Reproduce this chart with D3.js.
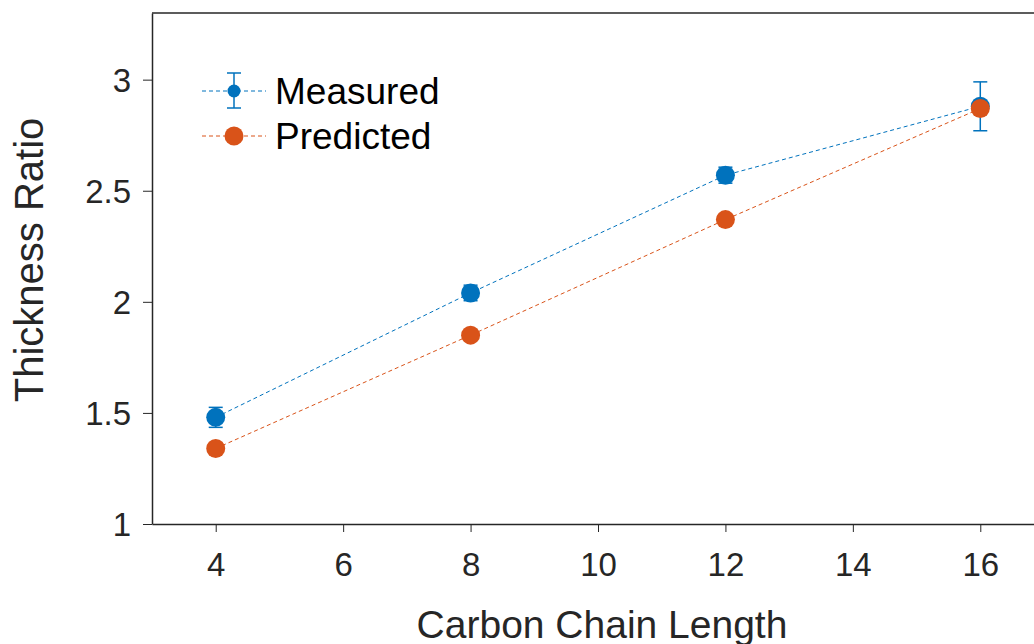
<!DOCTYPE html>
<html>
<head>
<meta charset="utf-8">
<script src="https://cdn.jsdelivr.net/npm/d3@7"></script>
<style>
  body { margin: 0; background: #fff; }
  svg { display: block; font-family: "Liberation Sans", Arial, sans-serif; }
</style>
</head>
<body>
<div id="chart"></div>
<script>
// chain lengths and the two series
const chainLength = [4, 8, 12, 16];
const measured = [1.48, 2.04, 2.57, 2.88];
const measuredErr = [0.045, 0.035, 0.036, 0.11];
const predicted = [1.34, 1.85, 2.37, 2.87];
const xTicks = [4, 6, 8, 10, 12, 14, 16];
const yTicks = [1, 1.5, 2, 2.5, 3];

const width = 1034, height = 644;
const margin = {left: 152, top: 13, right: -10, bottom: 120};
const blue = "#0072BD", orange = "#D95319", ink = "#262626";

const svg = d3.select("#chart").append("svg")
    .attr("width", width)
    .attr("height", height);

const x = d3.scaleLinear()
    .domain([3, 17])
    .range([margin.left, width - margin.right]);
const y = d3.scaleLinear()
    .domain([1, 3.3])
    .range([height - margin.bottom, margin.top]);

// top border
svg.append("line")
    .attr("x1", margin.left).attr("x2", width)
    .attr("y1", y(3.3)).attr("y2", y(3.3))
    .attr("stroke", ink).attr("stroke-width", 1.5);

// axes
const xAxis = svg.append("g")
    .attr("transform", `translate(0,${y(1)})`)
    .call(d3.axisBottom(x).tickValues(xTicks).tickSizeInner(8).tickSizeOuter(0)
        .tickPadding(21).tickFormat(d3.format("d")));
const yAxis = svg.append("g")
    .attr("transform", `translate(${margin.left},0)`)
    .call(d3.axisLeft(y).tickValues(yTicks).tickSizeInner(9).tickSizeOuter(0)
        .tickPadding(12).tickFormat(d => d));

[xAxis, yAxis].forEach(g => {
    g.select(".domain").attr("stroke", ink).attr("stroke-width", 1.5);
    g.selectAll(".tick line").attr("stroke", ink).attr("stroke-width", 1);
    g.selectAll(".tick text").attr("fill", ink).style("font-size", "33px");
});
yAxis.selectAll(".tick text").attr("dy", "0.35em");

// axis titles
svg.append("text")
    .attr("x", 602).attr("y", 638)
    .attr("text-anchor", "middle")
    .attr("fill", ink)
    .style("font-size", "39px")
    .text("Carbon Chain Length");
svg.append("text")
    .attr("transform", `translate(43,260) rotate(-90)`)
    .attr("text-anchor", "middle")
    .attr("fill", ink)
    .style("font-size", "40px")
    .text("Thickness Ratio");

const line = d3.line().x(d => x(d[0])).y(d => y(d[1]));

// predicted series
svg.append("path")
    .datum(chainLength.map((c, i) => [c, predicted[i]]))
    .attr("d", line)
    .attr("fill", "none")
    .attr("stroke", orange)
    .attr("stroke-width", 1)
    .attr("stroke-dasharray", "4,3");

// measured series
svg.append("path")
    .datum(chainLength.map((c, i) => [c, measured[i]]))
    .attr("d", line)
    .attr("fill", "none")
    .attr("stroke", blue)
    .attr("stroke-width", 1)
    .attr("stroke-dasharray", "4,3");

// error bars
const err = svg.append("g").attr("stroke", blue).attr("stroke-width", 1.5);
chainLength.forEach((c, i) => {
    const lo = y(measured[i] - measuredErr[i]), hi = y(measured[i] + measuredErr[i]);
    err.append("line").attr("x1", x(c)).attr("x2", x(c)).attr("y1", lo).attr("y2", hi);
    err.append("line").attr("x1", x(c) - 7).attr("x2", x(c) + 7).attr("y1", lo).attr("y2", lo);
    err.append("line").attr("x1", x(c) - 7).attr("x2", x(c) + 7).attr("y1", hi).attr("y2", hi);
});

svg.append("g").selectAll("circle")
    .data(chainLength)
    .join("circle")
    .attr("cx", d => x(d))
    .attr("cy", (d, i) => y(measured[i]))
    .attr("r", 9.5)
    .attr("fill", blue);

svg.append("g").selectAll("circle")
    .data(chainLength)
    .join("circle")
    .attr("cx", d => x(d))
    .attr("cy", (d, i) => y(predicted[i]))
    .attr("r", 9.5)
    .attr("fill", orange);

// legend
const legend = svg.append("g");
const entries = [
    {name: "Measured", color: blue, ly: 91, bar: true},
    {name: "Predicted", color: orange, ly: 136, bar: false}
];
entries.forEach(e => {
    legend.append("line")
        .attr("x1", 202).attr("x2", 266)
        .attr("y1", e.ly).attr("y2", e.ly)
        .attr("stroke", e.color).attr("stroke-width", 1)
        .attr("stroke-dasharray", "4,3");
    if (e.bar) {
        const g = legend.append("g").attr("stroke", e.color).attr("stroke-width", 1.5);
        g.append("line").attr("x1", 234).attr("x2", 234).attr("y1", e.ly - 18).attr("y2", e.ly + 17);
        g.append("line").attr("x1", 227).attr("x2", 241).attr("y1", e.ly - 18).attr("y2", e.ly - 18);
        g.append("line").attr("x1", 227).attr("x2", 241).attr("y1", e.ly + 17).attr("y2", e.ly + 17);
    }
    legend.append("circle")
        .attr("cx", 234).attr("cy", e.ly)
        .attr("r", e.bar ? 6.5 : 9.5)
        .attr("fill", e.color);
    legend.append("text")
        .attr("x", 275).attr("y", e.ly)
        .attr("dy", "0.36em")
        .attr("fill", "#000")
        .style("font-size", "37px")
        .text(e.name);
});
</script>
</body>
</html>
